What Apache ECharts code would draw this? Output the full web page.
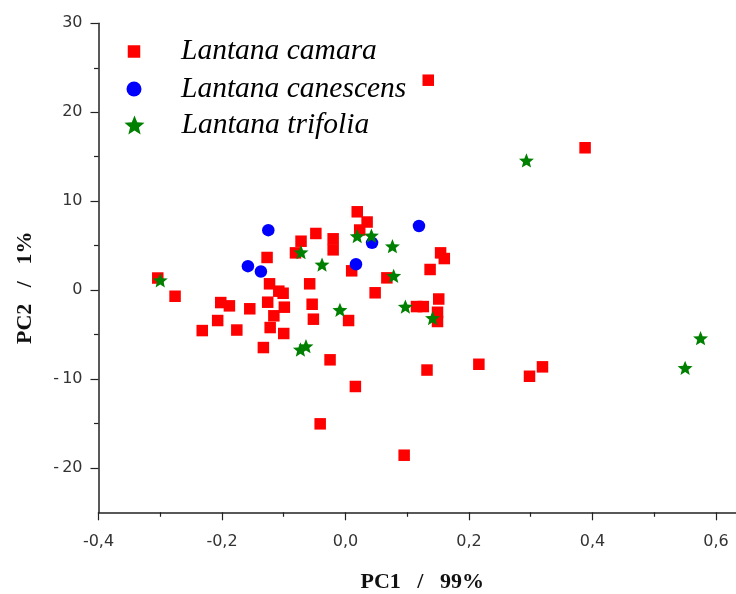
<!DOCTYPE html>
<html>
<head>
<meta charset="utf-8">
<title>PCA – Lantana</title>
<script src="https://cdn.jsdelivr.net/npm/echarts@6/dist/echarts.min.js"></script>
<style>
  html, body { margin: 0; padding: 0; background: #fff; }
  #chart { width: 736px; height: 594px; }
</style>
</head>
<body>
<div id="chart"></div>
<script>
// Species names (legend order = drawing order)
const speciesNames = ['Lantana camara', 'Lantana canescens', 'Lantana trifolia'];

// PCA scores: PC1 and PC2 for each sample
const camaraPC1 = [0.134, 0.388, 0.019, 0.035, 0.023, -0.048, -0.072, -0.020, -0.020, -0.081,
  -0.127, 0.154, 0.160, 0.137, 0.010, 0.067, -0.123, -0.058, -0.108, -0.101,
  0.048, -0.304, -0.276, 0.151, -0.202, -0.188, -0.126, -0.054, -0.099, -0.155,
  0.115, 0.126, 0.149, 0.149, -0.207, -0.116, -0.052, 0.005, -0.232, -0.176,
  -0.122, -0.100, -0.133, -0.025, 0.132, 0.216, 0.298, 0.319, 0.016, -0.041, 0.095];
const camaraPC2 = [23.6, 16.0, 8.8, 7.65, 6.75, 6.36, 5.49, 5.76, 4.52, 4.18,
  3.66, 4.18, 3.54, 2.31, 2.16, 1.37, 0.70, 0.70, -0.13, -0.36,
  -0.31, 1.35, -0.70, -1.01, -1.41, -1.78, -1.37, -1.60, -1.93, -2.11,
  -1.86, -1.86, -2.50, -3.54, -3.43, -2.90, -3.28, -3.43, -4.56, -4.50,
  -4.22, -4.89, -6.47, -7.85, -9.0, -8.35, -9.70, -8.64, -10.85, -15.05, -18.58];

const canescensPC1 = [-0.125, -0.158, -0.137, 0.017, 0.043, 0.119];
const canescensPC2 = [6.73, 2.68, 2.08, 2.90, 5.31, 7.20];

const trifoliaPC1 = [-0.300, -0.072, -0.038, 0.019, 0.042, 0.076, 0.078, -0.009, 0.097, 0.141,
  -0.073, -0.064, 0.293, 0.550, 0.575];
const trifoliaPC2 = [1.10, 4.25, 2.87, 6.07, 6.13, 4.93, 1.60, -2.23, -1.86, -3.15,
  -6.69, -6.32, 14.57, -8.75, -5.42];

// Axis tick positions
const xMajorTicks = [-0.4, -0.2, 0, 0.2, 0.4, 0.6];
const xMinorTicks = [-0.3, -0.1, 0.1, 0.3, 0.5];
const yMajorTicks = [-20, -10, 0, 10, 20, 30];
const yMinorTicks = [-15, -5, 5, 15, 25];

const pairs = (xs, ys) => xs.map((x, i) => [x, ys[i]]);

const squarePath = 'path://M0,0L10,0L10,10L0,10Z';
const starPath = 'path://M50,0L62.93,32.2L97.55,34.55L70.92,56.8L79.39,90.45L50,72L20.61,90.45L29.08,56.8L2.45,34.55L37.07,32.2Z';

const axisColor = '#222';
const tickFont = { fontFamily: 'DejaVu Sans', fontSize: 16, color: '#333' };
const titleFont = { fontFamily: 'Liberation Serif', fontWeight: 'bold', fontSize: 22, color: '#111' };
const legendFont = { fontFamily: 'Liberation Serif', fontStyle: 'italic', fontSize: 29.5, lineHeight: 29, color: '#000' };

// One legend per species so each icon keeps its own size; icons centred on x = 134
function legendFor(name, icon, size, top) {
  return {
    data: [{ name: name, icon: icon }],
    orient: 'vertical',
    left: 134 - size / 2,
    top: top,
    padding: 0,
    itemWidth: 84,
    itemHeight: size,
    symbolKeepAspect: true,
    selectedMode: false,
    textStyle: legendFont
  };
}

const xMin = -0.4;
const xMax = 0.6324;
const yMin = -25;
const yMax = 30;

const chart = echarts.init(document.getElementById('chart'), null, { renderer: 'canvas' });

chart.setOption({
  animation: false,
  backgroundColor: '#fff',
  grid: {
    left: 98.5, top: 23.3, right: 0, bottom: 81.7,
    containLabel: false,
    outerBoundsMode: 'none'
  },
  legend: [
    legendFor(speciesNames[0], squarePath, 12.5, 36.5),
    legendFor(speciesNames[1], 'circle', 15, 74),
    legendFor(speciesNames[2], starPath, 19, 110)
  ],
  xAxis: [
    {
      type: 'value',
      position: 'bottom',
      min: xMin,
      max: xMax,
      name: 'PC1   /   99%',
      nameLocation: 'middle',
      nameGap: 59,
      nameTextStyle: Object.assign({ padding: [0, 0, 0, 10] }, titleFont),
      axisLine: { show: true, onZero: false, lineStyle: { color: axisColor, width: 1.5 } },
      axisTick: { show: true, inside: false, length: 8, customValues: xMajorTicks, lineStyle: { color: axisColor, width: 1.2 } },
      axisLabel: Object.assign({
        margin: 22,
        customValues: xMajorTicks,
        formatter: v => v.toFixed(1).replace('.', ',')
      }, tickFont),
      splitLine: { show: false }
    },
    {
      type: 'value',
      position: 'bottom',
      min: xMin,
      max: xMax,
      axisLine: { show: false, onZero: false },
      axisTick: { show: true, inside: false, length: 4.5, customValues: xMinorTicks, lineStyle: { color: axisColor, width: 1.2 } },
      axisLabel: { show: false },
      splitLine: { show: false }
    }
  ],
  yAxis: [
    {
      type: 'value',
      position: 'left',
      min: yMin,
      max: yMax,
      name: 'PC2   /   1%',
      nameLocation: 'middle',
      nameGap: 62,
      nameTextStyle: Object.assign({ padding: [0, 40, 0, 0] }, titleFont),
      axisLine: { show: true, onZero: false, lineStyle: { color: axisColor, width: 1.5 } },
      axisTick: { show: true, inside: false, length: 8, customValues: yMajorTicks, lineStyle: { color: axisColor, width: 1.2 } },
      axisLabel: Object.assign({
        margin: 16,
        customValues: yMajorTicks,
        formatter: v => (v < 0 ? '-\u2009' + Math.abs(v) : String(v))
      }, tickFont),
      splitLine: { show: false }
    },
    {
      type: 'value',
      position: 'left',
      min: yMin,
      max: yMax,
      axisLine: { show: false, onZero: false },
      axisTick: { show: true, inside: false, length: 4.5, customValues: yMinorTicks, lineStyle: { color: axisColor, width: 1.2 } },
      axisLabel: { show: false },
      splitLine: { show: false }
    }
  ],
  series: [
    {
      name: speciesNames[0],
      type: 'scatter',
      xAxisIndex: 0,
      yAxisIndex: 0,
      symbol: 'rect',
      symbolSize: 11.5,
      itemStyle: { color: '#ff0000', opacity: 1 },
      data: pairs(camaraPC1, camaraPC2)
    },
    {
      name: speciesNames[1],
      type: 'scatter',
      xAxisIndex: 0,
      yAxisIndex: 0,
      symbol: 'circle',
      symbolSize: 12.5,
      itemStyle: { color: '#0000ff', opacity: 1 },
      data: pairs(canescensPC1, canescensPC2)
    },
    {
      name: speciesNames[2],
      type: 'scatter',
      xAxisIndex: 0,
      yAxisIndex: 0,
      symbol: starPath,
      symbolKeepAspect: true,
      symbolSize: 15,
      itemStyle: { color: '#008000', opacity: 1 },
      data: pairs(trifoliaPC1, trifoliaPC2)
    }
  ]
});
</script>
</body>
</html>
